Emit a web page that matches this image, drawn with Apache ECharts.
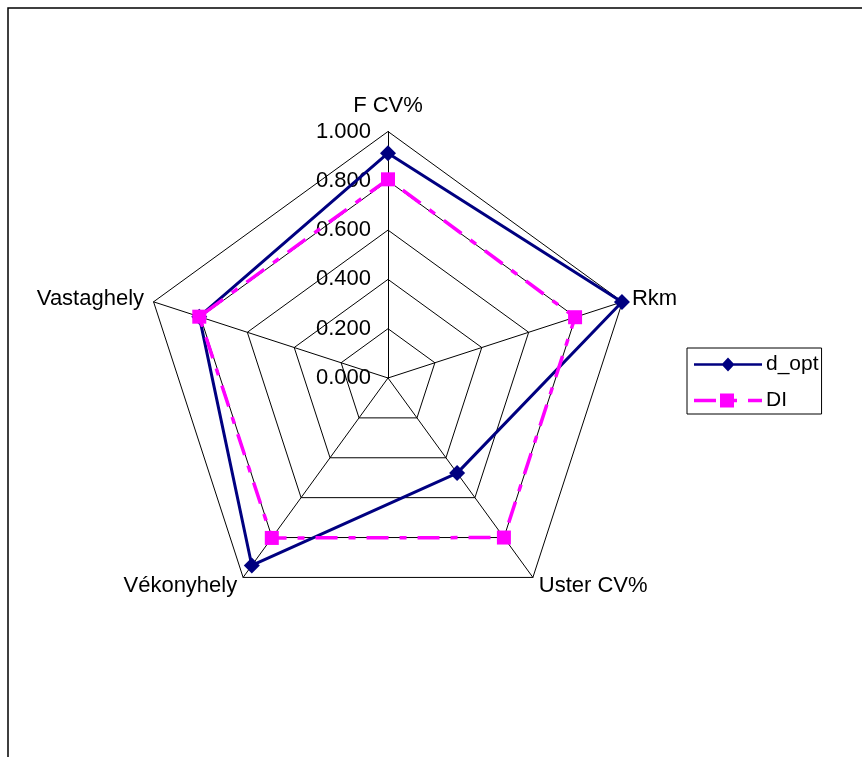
<!DOCTYPE html>
<html>
<head>
<meta charset="utf-8">
<script src="https://cdn.jsdelivr.net/npm/echarts@6/dist/echarts.min.js"></script>
<style>html,body{margin:0;padding:0;background:#fff}#c{width:862px;height:757px}</style>
</head>
<body>
<div id="c"></div>
<script>
// Indicators listed in reference order (clockwise from top)
const indicatorNames = ['F CV%', 'Rkm', 'Uster CV%', 'Vékonyhely', 'Vastaghely'];
const dOpt = [0.912, 0.998, 0.477, 0.940, 0.805];
const DI = [0.806, 0.798, 0.800, 0.802, 0.805];
const tickValues = ['0.000', '0.200', '0.400', '0.600', '0.800', '1.000'];
const seriesNames = ['d_opt', 'DI'];

// ECharts radar places indicators counter-clockwise; reorder to clockwise layout
function ccw(arr) { return [arr[0]].concat(arr.slice(1).reverse()); }

const cx = 388, cy = 378, R = 246.5;
const chart = echarts.init(document.getElementById('c'), null, {renderer: 'canvas'});
const font = 'Liberation Sans, Arial, sans-serif';

const iconDopt = 'path://M0,5.7L68,5.7L68,8.3L0,8.3Z M34,0L40.5,7L34,14L27.5,7Z';
const iconDI = 'path://M0,5.2L22,5.2L22,8.8L0,8.8Z M26,0L40,0L40,14L26,14Z M40,5.2L43,5.2L43,8.8L40,8.8Z M54,5.2L68,5.2L68,8.8L54,8.8Z';

chart.setOption({
  animation: false,
  backgroundColor: '#fff',
  graphic: [{
    type: 'rect', shape: {x: 8, y: 8, width: 900, height: 800},
    style: {fill: 'none', stroke: '#000', lineWidth: 1.5}, silent: true, z: -10
  }],
  legend: {
    orient: 'vertical',
    left: 687, top: 348,
    data: [{name: seriesNames[0], icon: iconDopt}, {name: seriesNames[1], icon: iconDI}],
    itemWidth: 68, itemHeight: 14, itemGap: 15,
    padding: [6, 3, 3, 7],
    borderColor: '#000', borderWidth: 1,
    textStyle: {fontFamily: font, fontSize: 21, color: '#000', padding: [0, 0, 0, -1]}
  },
  grid: {left: cx, top: cy - R, width: 10, height: R, containLabel: false},
  xAxis: {type: 'value', show: false},
  yAxis: {
    type: 'value', min: 0, max: 1, interval: 0.2, position: 'left',
    axisLine: {show: false}, axisTick: {show: false}, splitLine: {show: false},
    axisLabel: {
      margin: 17, fontFamily: font, fontSize: 22, color: '#000',
      formatter: function (v) { return tickValues[Math.round(v / 0.2)]; }
    }
  },
  radar: {
    center: [cx, cy], radius: R, startAngle: 90, shape: 'polygon',
    splitNumber: 5,
    indicator: ccw(indicatorNames).map(n => ({name: n, min: 0, max: 1})),
    nameGap: 10,
    axisName: {
      color: '#000', fontFamily: font, fontSize: 22, verticalAlign: 'middle',
      formatter: function (name) { return name === 'F CV%' ? '{t|' + name + '}' : name; },
      rich: {t: {fontFamily: font, fontSize: 22, color: '#000', padding: [0, 0, 32, 0]}}
    },
    axisLine: {lineStyle: {color: '#000', width: 1}},
    splitLine: {lineStyle: {color: '#000', width: 1}},
    splitArea: {show: false},
    axisTick: {show: false},
    axisLabel: {show: false}
  },
  series: [{
    type: 'radar', name: 'd_opt', z: 2,
    symbol: 'diamond', symbolSize: 16,
    lineStyle: {color: '#000080', width: 3},
    itemStyle: {color: '#000080'},
    data: [{name: 'd_opt', value: ccw(dOpt)}]
  }, {
    type: 'radar', name: 'DI', z: 3,
    symbol: 'rect', symbolSize: 14,
    lineStyle: {color: '#FF00FF', width: 3.5, type: [22, 11, 7, 11]},
    itemStyle: {color: '#FF00FF'},
    data: [{name: 'DI', value: ccw(DI)}]
  }]
});
</script>
</body>
</html>
